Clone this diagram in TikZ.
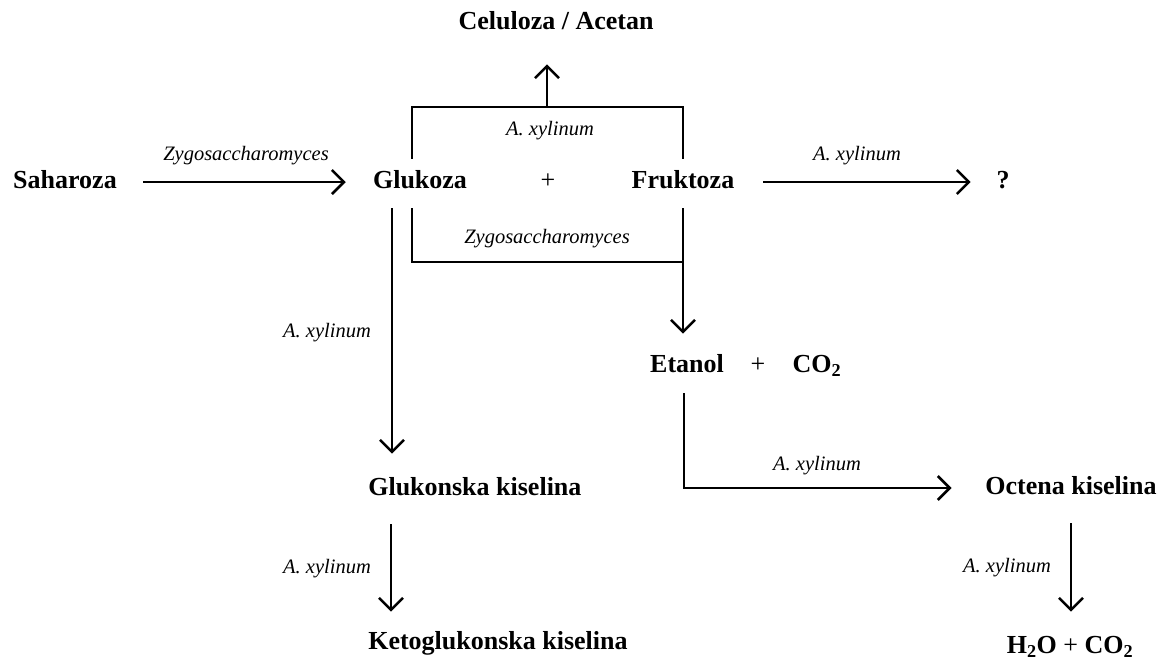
\documentclass[tikz,border=0pt]{standalone}
\usepackage{fontspec}
\setmainfont{Liberation Serif}
\usetikzlibrary{arrows.meta,positioning,calc}

\begin{document}
\begin{tikzpicture}[x=1pt, y=-1pt, line width=2.6pt, >={Straight Barb[length=12pt,width=24pt]},
main node/.style={inner sep=0pt, text height=18pt, text depth=5pt, font=\bfseries\fontsize{26}{30}\selectfont},
plus node/.style={inner sep=0pt, text height=18pt, text depth=5pt, font=\fontsize{26}{30}\selectfont},
bug node/.style={inner sep=0pt, text height=14pt, text depth=4pt, font=\itshape\fontsize{20.5}{24}\selectfont}]
\useasboundingbox (0,0) rectangle (1167,662);
\begin{scope}
\node[main node] (sah) at (65,182) {Saharoza};
\node[main node] (glu) at (420,182) {Glukoza};
\node[plus node] (p1) at (548,182) {+};
\node[main node] (fru) at (683,182) {Fruktoza};
\node[main node] (que) at (1003,182) {?};
\node[main node] (cel) at (556,23) {Celuloza / Acetan};
\node[main node] (eta) at (687,366) {Etanol};
\node[plus node] (p2) at (758,366) {+};
\node[main node] (co2) at (817,366) {CO\textsubscript{2}};
\node[main node, anchor=west] (glk) at (367,489) {Glukonska kiselina};
\node[main node, anchor=west] (ket) at (367,643) {Ketoglukonska kiselina};
\node[main node] (oct) at (1071,488) {Octena kiselina};
\node[main node] (hco) at (1070,647) {H\textsubscript{2}O {\mdseries +} CO\textsubscript{2}};
\coordinate (top) at (547,107);
\coordinate (bot) at (683,262);
\end{scope}
\begin{scope}
\node[bug node] (z1) at (246,155) {Zygosaccharomyces};
\node[bug node] (a1) at (857,155) {A. xylinum};
\node[bug node] (a2) at (550,130) {A. xylinum};
\node[bug node] (z2) at (547,238) {Zygosaccharomyces};
\node[bug node] (a3) at (327,332) {A. xylinum};
\node[bug node] (a4) at (817,465) {A. xylinum};
\node[bug node] (a5) at (327,568) {A. xylinum};
\node[bug node] (a6) at (1007,567) {A. xylinum};
\end{scope}
\begin{scope}
\draw[->, shorten <=25pt, shorten >=26pt] (sah) -- (glu);
\draw[->, shorten <=27.5pt, shorten >=24.5pt] (fru) -- (que);
\draw[shorten <=10.5pt, shorten >=10.5pt] ([xshift=-8pt]glu.north) |- (top) -| (fru.north);
\draw[->, shorten >=28.5pt] (top) -- (top |- cel.south);
\draw[shorten <=13.5pt] ([xshift=-8pt]glu.south) |- (bot);
\draw[->, shorten <=13.5pt, shorten >=19.5pt] (fru.south) -- (fru.south |- eta.north);
\draw[->, shorten <=13.5pt, shorten >=22.5pt] ([xshift=-28pt]glu.south) -- ([xshift=-28pt]glu.south |- glk.north);
\draw[->, shorten <=22.5pt, shorten >=18.5pt] ([xshift=24pt]glk.south west) -- ([xshift=24pt]ket.north west);
\draw[->, shorten <=14.5pt, shorten >=32.5pt] ([xshift=-3pt]eta.south) |- (oct.west);
\draw[->, shorten <=22.5pt, shorten >=22.5pt] (oct.south) -- (oct.south |- hco.north);
\end{scope}
\end{tikzpicture}
\end{document}
